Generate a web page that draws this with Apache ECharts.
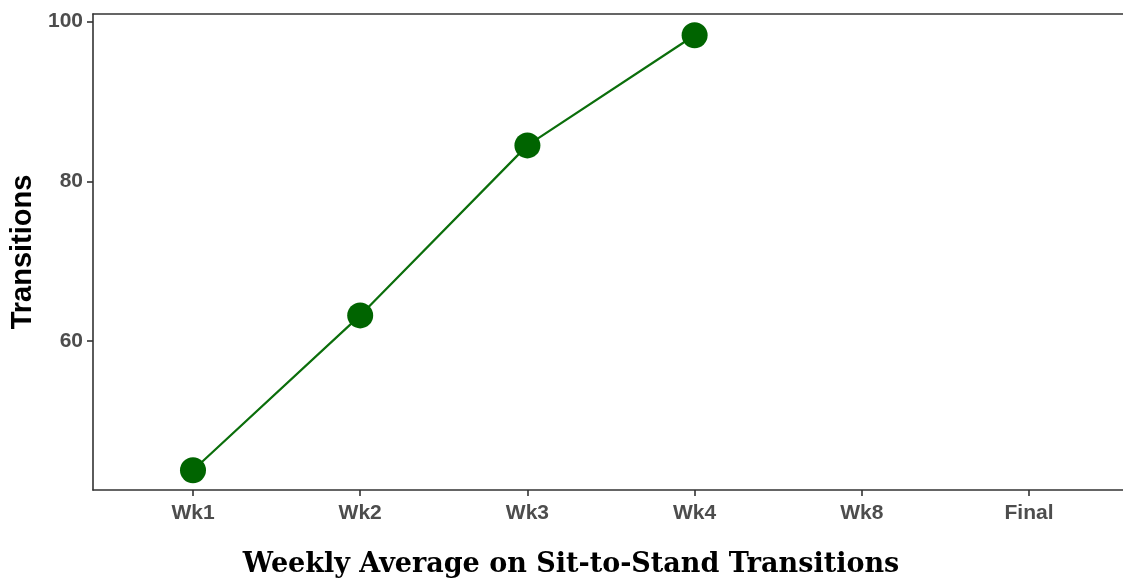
<!DOCTYPE html>
<html><head><meta charset="utf-8">
<script src="https://cdn.jsdelivr.net/npm/echarts@6/dist/echarts.min.js"></script>
<style>html,body{margin:0;padding:0;background:#fff}#c{width:1123px;height:581px}</style>
</head><body><div id="c"></div>
<script>
const categories = ['Wk1','Wk2','Wk3','Wk4','Wk8','Final'];
const transitions = [43.8, 63.2, 84.5, 98.3, null, null];
const yTicks = [60, 80, 100];
const xTitle = 'Weekly Average on Sit-to-Stand Transitions';

const chart = echarts.init(document.getElementById('c'), null, {renderer:'canvas'});
const data = transitions.map((v,i)=> v==null ? null : [i, v]).filter(d=>d);
const axisCol = '#333333';
const labCol = '#4d4d4d';
chart.setOption({
  animation:false,
  grid:{left:93, right:0, top:14, bottom:91},
  xAxis:[{
    type:'value', min:-0.598, max:5.562,
    axisLine:{show:true, onZero:false, lineStyle:{color:axisCol, width:1.6}},
    splitLine:{show:false},
    axisTick:{show:true, length:6, customValues:categories.map((c,i)=>i), lineStyle:{color:axisCol, width:1.6}},
    axisLabel:{customValues:categories.map((c,i)=>i), formatter:v=>categories[Math.round(v)],
      color:labCol, fontFamily:'Liberation Sans', fontWeight:'bold', fontSize:21, margin:13}
  },{
    type:'value', position:'top', min:-0.598, max:5.562,
    axisLine:{show:true, onZero:false, lineStyle:{color:axisCol, width:1.6}},
    axisTick:{show:false}, axisLabel:{show:false}, splitLine:{show:false}
  }],
  yAxis:{
    type:'value', min:41.33, max:100.96,
    axisLine:{show:true, onZero:false, lineStyle:{color:axisCol, width:1.6}},
    splitLine:{show:false},
    axisTick:{show:true, length:6, customValues:yTicks, lineStyle:{color:axisCol, width:1.6}},
    axisLabel:{customValues:yTicks, color:labCol, fontFamily:'Liberation Sans', fontWeight:'bold', fontSize:21, margin:10},
    name:'Transitions', nameLocation:'middle', nameGap:55, nameRotate:90,
    nameTextStyle:{color:'#000', fontFamily:'Liberation Sans', fontWeight:'bold', fontSize:29}
  },
  graphic:[{
    type:'text', x:571, y:565,
    style:{text:xTitle, fill:'#000', font:'bold 27px "DejaVu Serif"', textAlign:'center', textVerticalAlign:'middle'}
  }],
  series:[{
    type:'line', data:data, symbol:'circle', symbolSize:26,
    lineStyle:{color:'#0b6e0b', width:2.2},
    itemStyle:{color:'#006400'}
  }]
});
</script></body></html>
